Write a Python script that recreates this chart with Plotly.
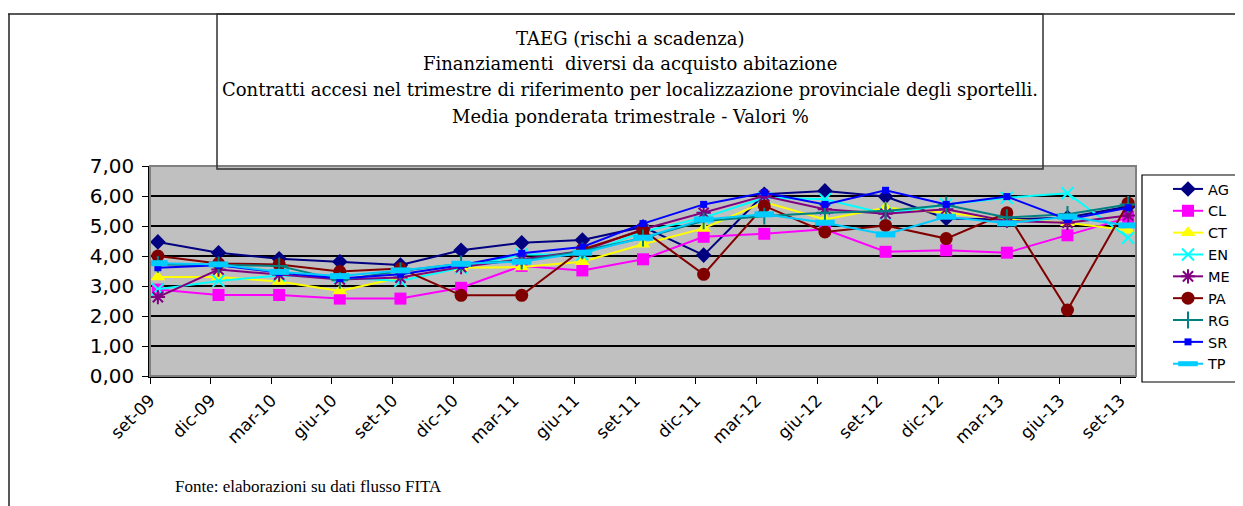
import plotly.graph_objects as go

categories = ["set-09", "dic-09", "mar-10", "giu-10", "set-10", "dic-10", "mar-11", "giu-11",
              "set-11", "dic-11", "mar-12", "giu-12", "set-12", "dic-12", "mar-13", "giu-13", "set-13"]

AG = [4.47, 4.11, 3.91, 3.81, 3.70, 4.19, 4.44, 4.53, 4.97, 4.03, 6.06, 6.17, 5.98, 5.25, 5.22, 5.28, 5.65]
CL = [2.88, 2.70, 2.70, 2.58, 2.58, 2.94, 3.67, 3.52, 3.89, 4.64, 4.74, 4.89, 4.14, 4.19, 4.11, 4.69, 5.28]
CT = [3.30, 3.30, 3.15, 2.83, 3.28, 3.61, 3.63, 3.81, 4.39, 4.92, 5.80, 5.22, 5.61, 5.44, 5.22, 5.11, 4.86]
EN = [2.89, 3.17, 3.35, 3.28, 3.17, 3.61, 4.05, 4.05, 4.81, 5.28, 5.94, 5.89, 5.41, 5.72, 5.94, 6.09, 4.61]
ME = [2.63, 3.55, 3.38, 3.22, 3.28, 3.63, 3.89, 4.17, 4.89, 5.44, 6.00, 5.56, 5.41, 5.56, 5.17, 5.11, 5.35]
PA = [4.00, 3.75, 3.72, 3.48, 3.58, 2.69, 2.69, 4.22, 4.86, 3.39, 5.67, 4.80, 5.02, 4.58, 5.44, 2.20, 5.76]
RG = [3.72, 3.70, 3.67, 3.19, 3.50, 3.74, 3.83, 4.17, 4.60, 5.17, 5.33, 5.44, 5.50, 5.70, 5.28, 5.39, 5.72]
SR = [3.61, 3.69, 3.45, 3.25, 3.39, 3.69, 4.09, 4.30, 5.08, 5.72, 6.11, 5.72, 6.19, 5.72, 5.98, 5.22, 5.61]
TP = [3.76, 3.72, 3.47, 3.33, 3.52, 3.74, 3.81, 4.11, 4.61, 5.22, 5.39, 5.11, 4.72, 5.31, 5.09, 5.31, 5.02]

series_names = ["AG", "CL", "CT", "EN", "ME", "PA", "RG", "SR", "TP"]
series_values = [AG, CL, CT, EN, ME, PA, RG, SR, TP]

colors = {"AG": "#000080", "CL": "#FF00FF", "CT": "#FFFF00", "EN": "#00FFFF", "ME": "#800080",
          "PA": "#800000", "RG": "#008080", "SR": "#0000FF", "TP": "#00CCFF"}
markers = {
    "AG": dict(symbol="diamond", size=12),
    "CL": dict(symbol="square", size=12),
    "CT": dict(symbol="triangle-up", size=13),
    "EN": dict(symbol="x-thin-open", size=12, line=dict(width=2)),
    "ME": dict(symbol="asterisk-open", size=12, line=dict(width=2)),
    "PA": dict(symbol="circle", size=13),
    "RG": dict(symbol="cross-thin-open", size=12, line=dict(width=2)),
    "SR": dict(symbol="square", size=7),
    "TP": dict(symbol="line-ew-open", size=14, line=dict(width=6)),
}

x_idx = list(range(len(categories)))

fig = go.Figure()
for name, vals in zip(series_names, series_values):
    m = dict(markers[name])
    m["color"] = colors[name]
    if "line" in m:
        m["line"] = dict(m["line"], color=colors[name])
    fig.add_trace(go.Scatter(
        x=x_idx, y=vals, name=name, mode="lines+markers",
        line=dict(color=colors[name], width=2),
        marker=m,
    ))

# page has an 8px body margin: figure pixel = page pixel - 8
OFF = 8
W, H = 1243 - OFF, 506 - OFF
L, R, T, B = 150 - OFF, 1136 - OFF, 166 - OFF, 376 - OFF


def px(xp):
    return (xp - OFF - L) / (R - L)


def py(yp):
    return (B - (yp - OFF)) / (B - T)


shapes = [
    dict(type="rect", xref="paper", yref="paper", x0=0, x1=1, y0=0, y1=1,
         line=dict(color="#808080", width=2), layer="above"),
    dict(type="line", xref="paper", yref="paper", x0=px(0), x1=px(1260), y0=py(14), y1=py(14),
         line=dict(color="#202020", width=1.5)),
    dict(type="line", xref="paper", yref="paper", x0=px(9), x1=px(9), y0=py(14), y1=py(520),
         line=dict(color="#202020", width=1.5)),
    dict(type="rect", xref="paper", yref="paper", x0=px(217), x1=px(1043), y0=py(169), y1=py(14),
         line=dict(color="#303030", width=1.5), layer="above"),
    # legend frame
    dict(type="rect", xref="paper", yref="paper", x0=px(1142), x1=px(1260), y0=py(382), y1=py(175),
         line=dict(color="black", width=1.2), fillcolor="white", layer="above"),
]

title_lines = [
    "TAEG (rischi a scadenza)",
    "Finanziamenti  diversi da acquisto abitazione",
    "Contratti accesi nel trimestre di riferimento per localizzazione provinciale degli sportelli.",
    "Media ponderata trimestrale - Valori %",
]
title_y = [38, 64, 90, 116]
annotations = []
for t, yy in zip(title_lines, title_y):
    annotations.append(dict(text=t, xref="paper", yref="paper", x=px(630), y=py(yy),
                            xanchor="center", yanchor="middle", showarrow=False,
                            font=dict(family="DejaVu Serif", size=18, color="black")))
annotations.append(dict(text="Fonte: elaborazioni su dati flusso FITA", xref="paper", yref="paper",
                        x=px(173), y=py(486), xanchor="left", yanchor="middle", showarrow=False,
                        font=dict(family="Liberation Serif", size=17, color="black")))

fig.update_layout(
    width=W, height=H,
    margin=dict(l=L, r=W - R, t=T, b=H - B, pad=0, autoexpand=False),
    paper_bgcolor="white",
    plot_bgcolor="#C0C0C0",
    separators=",.",
    font=dict(family="Liberation Sans", color="black"),
    showlegend=True,
    legend=dict(x=px(1168), y=py(173), xanchor="left", yanchor="top",
                bgcolor="rgba(0,0,0,0)", borderwidth=0,
                font=dict(family="DejaVu Sans", size=14.5, color="black"),
                tracegroupgap=0, itemwidth=30, maxheight=400),
    shapes=shapes,
    annotations=annotations,
)

fig.update_xaxes(
    range=[-0.13, 16.13],
    tickmode="array",
    tickvals=[i - 0.13 for i in x_idx],
    ticktext=categories,
    tickangle=-45,
    ticks="outside", ticklen=6, tickcolor="black",
    showgrid=False, zeroline=False,
    showline=True, linecolor="black", linewidth=1.5,
    tickfont=dict(family="DejaVu Sans", size=17, color="black"),
)
fig.update_yaxes(
    range=[0, 7], dtick=1, tick0=0,
    tickformat=".2f",
    ticks="outside", ticklen=6, tickcolor="black",
    showgrid=True, gridcolor="black", gridwidth=1.5,
    zeroline=False,
    showline=True, linecolor="black", linewidth=1.5,
    ticklabelstandoff=4,
    tickfont=dict(family="DejaVu Sans", size=20, color="black"),
)

fig.write_html("out.html")
